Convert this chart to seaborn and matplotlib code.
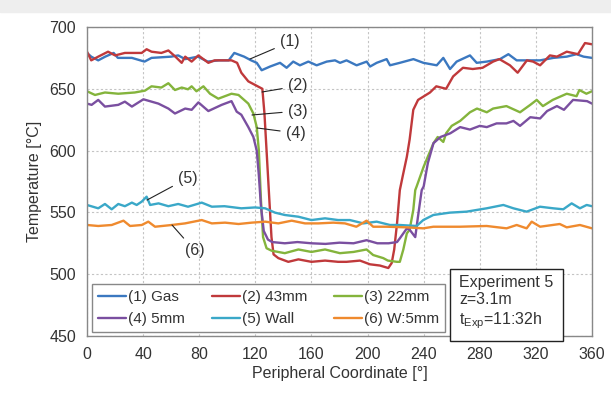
import matplotlib.pyplot as plt
import seaborn as sns
from matplotlib.patches import Rectangle

# peripheral coordinate [deg] and temperature [degC] per measuring position
gas_x = [0, 3, 8, 13, 19, 22, 32, 41, 46, 60, 65, 70, 79, 86, 94, 101, 105, 112, 117, 121,
         124.5, 130.5, 137.6, 142.3, 147, 151.8, 157.8, 163.7, 170.9, 176.8, 180.4, 185, 192.2,
         199.4, 201.8, 206.5, 213.6, 216, 223, 232.7, 239.8, 249.3, 254, 258.8, 263.5, 273,
         277.8, 285, 294.4, 300.4, 306.3, 313.4, 323, 332.5, 342, 349, 354, 360]
gas_y = [679, 676, 673, 676, 679, 675, 675, 672, 675, 676, 677, 674, 676, 672, 673, 673, 679,
         676, 673, 671, 665, 668, 671, 667, 672, 669, 672, 669, 672, 673, 671, 673, 669, 672,
         668, 671, 674, 669, 671, 674, 671, 669, 675, 666, 672, 677, 671, 672, 674, 678, 673,
         673, 673, 675, 676, 678, 676, 675]

red_x = [0, 3, 8, 15, 20, 27, 39, 42.5, 46, 53, 58, 63, 67.5, 70, 74.6, 79.4, 86.5, 91, 103,
         107, 110, 115, 120, 125, 126.5, 128, 130, 131.5, 133, 136.4, 143.5, 150.7, 160, 169.7,
         179, 185, 194.6, 201.7, 208.8, 214.8, 217.2, 219, 221, 223, 225, 228, 230, 232.6, 236,
         244.5, 249, 256, 261, 268, 275, 282, 289.5, 294, 301.5, 307, 313.6, 318, 323, 330,
         335, 342, 350, 355, 360]
red_y = [680, 673, 676, 680, 677, 679, 679, 682, 680, 679, 681, 676, 671, 676, 672, 677, 671,
         673, 673, 671, 663, 656, 653, 650, 630, 600, 560, 530, 516, 513, 510, 512, 510, 511,
         510, 510, 511, 508, 507, 505, 509, 520, 541, 568, 579, 595, 609, 633, 641, 647, 652,
         650, 660, 667, 666, 667, 672, 674, 669, 663, 673, 672, 669, 677, 676, 680, 678, 687,
         686]

grn_x = [0, 5.7, 12.8, 22.3, 34, 41.3, 46, 53, 58, 62.7, 67.5, 72, 74.6, 78, 83, 87.7, 93.6,
         103, 108, 115, 118.6, 121, 122.5, 124, 125.5, 128, 131.6, 141, 150.7, 160, 169.7,
         180.3, 190, 199.3, 204, 211.2, 214.5, 221, 223, 225.5, 228, 230, 232.6, 234, 235, 240,
         247, 250, 254, 256, 260, 266, 273, 278, 285, 289.5, 299, 308.7, 316, 320.6, 325, 332,
         342, 349, 351, 356, 360]
grn_y = [648, 645, 647, 646, 647, 648.5, 652, 651, 654.5, 649, 651, 649.6, 652, 648, 652, 646,
         642, 646, 645, 638, 630, 619, 600, 560, 530, 521, 519, 517, 520, 518, 520, 517, 518,
         520, 515.5, 513, 511, 510, 510, 520, 533, 536, 552, 568, 571, 587, 606, 611, 607, 614,
         620, 624, 631, 634, 631, 634, 636, 631, 637, 641, 636, 641, 646, 644, 649, 646, 648]

pur_x = [0, 3.3, 8, 12.8, 22.3, 27, 32, 40.2, 50.9, 58, 62.7, 70, 74.6, 79.4, 86.5, 96, 103,
         106.7, 110, 115, 118.6, 121, 122.5, 124, 126, 129, 132, 141, 150, 160, 170, 180, 190,
         199.3, 207, 215, 221, 223, 228, 230, 234, 236, 238.6, 240, 243, 247, 252, 259, 266,
         273, 280, 285, 292, 299, 304, 308.7, 316, 323, 328, 335, 340, 346.5, 356.5, 360]
pur_y = [638, 637, 641, 635.6, 637, 639.6, 635.6, 641.5, 638, 634, 630, 634, 633, 639, 632,
         637, 640, 631.5, 629, 619, 611, 600, 580, 555, 535, 528, 526, 525, 526, 525, 524.5,
         525.5, 525, 527.5, 525, 525, 526, 529, 537, 536, 530, 547, 568, 571, 590, 606, 611,
         614, 619, 617, 620, 619, 622, 622, 624, 620, 627, 626, 632, 636, 633, 641, 640, 638]

cyn_x = [0, 8, 12.8, 17.6, 22.3, 27, 32, 35.4, 39, 42.5, 45, 51, 58, 65, 72, 81.8, 89, 98, 110,
         119.8, 127, 134, 141, 150.7, 160, 169.7, 179, 187.4, 197, 206.5, 216, 223, 235, 239.7,
         246.9, 258.7, 270.6, 284.9, 296.8, 304, 313.4, 322.9, 332.4, 339.5, 345.5, 351.4,
         356.2, 360]
cyn_y = [556, 553.3, 556.8, 552.5, 556.8, 555, 557.9, 556, 558.7, 562.7, 556, 557.3, 555,
         556.8, 554.6, 557.9, 554.6, 555, 553.3, 554, 553.3, 549.8, 547.9, 546.5, 543.8, 545.2,
         543.8, 543.8, 541.1, 542.5, 539.8, 539.8, 539, 543.8, 547.9, 549.8, 550.6, 553.3, 556,
         553.3, 550.6, 554.6, 553.3, 552.5, 557.3, 553.3, 556, 555]

org_x = [0, 8, 17.6, 26, 30.7, 39, 43.7, 48.5, 60.4, 69.9, 81.8, 89, 98.4, 108, 117.4, 127,
         136.4, 145.9, 155.4, 164.9, 175.6, 183.9, 192, 199.3, 204, 213.6, 227.8, 239.7, 246.9,
         265.9, 284.9, 299.1, 306.3, 313.4, 317, 323, 337, 342, 351.4, 360]
org_y = [539.8, 539, 539.8, 543.3, 539, 539.8, 542.5, 538.4, 539.8, 541.1, 543.8, 541.1, 541.7,
         540.6, 541.7, 542.5, 541.1, 543.3, 541.1, 541.1, 541.7, 541.1, 538.4, 543.3, 538.4,
         538.4, 537.9, 537.1, 538.4, 538.4, 539, 537.1, 539.8, 537.1, 542.5, 538.4, 540.6,
         537.9, 539.8, 537.1]

labels = ["(1) Gas", "(2) 43mm", "(3) 22mm", "(4) 5mm", "(5) Wall", "(6) W:5mm"]
colors = ["#3b78c0", "#c0393b", "#84b43c", "#7a4fa0", "#3aa8c8", "#ef8a2e"]

# callout labels: text position, point on the curve
callouts = [("(1)", (144.7, 687.9), (116.2, 674.1)),
            ("(2)", (150.4, 652.3), (124.8, 647.4)),
            ("(3)", (150.4, 632.0), (117.6, 628.8)),
            ("(4)", (149.0, 614.2), (121.2, 618.3)),
            ("(5)", (72.0, 577.8), (42.8, 560.0)),
            ("(6)", (77.0, 518.8), (60.6, 539.8))]

sns.set_theme(style="white")
plt.rcParams["font.family"] = ["Liberation Sans", "DejaVu Sans"]

fig = plt.figure(figsize=(6.11, 3.98), dpi=100)
fig.patches.append(Rectangle((0, 1 - 12 / 398), 1, 12 / 398, transform=fig.transFigure,
                             color="#eeeeee", zorder=-1))
ax = fig.add_axes([0.1424, 0.1558, 0.8265, 0.7764])

data = [(gas_x, gas_y), (red_x, red_y), (grn_x, grn_y),
        (pur_x, pur_y), (cyn_x, cyn_y), (org_x, org_y)]
for (xs, ys), lab, c in zip(data, labels, colors):
    sns.lineplot(x=xs, y=ys, color=c, lw=1.7, label=lab, ax=ax, estimator=None)

ax.set_xlim(0, 360)
ax.set_ylim(450, 700)
ax.set_xticks(range(0, 361, 40))
ax.set_yticks(range(450, 701, 50))
ax.grid(True, ls=(0, (2, 2)), color="#c4c4c4", lw=0.8)
for s in ax.spines.values():
    s.set_color("#888888")
    s.set_linewidth(1)
ax.tick_params(direction="in", length=3, labelsize=11.5, colors="#888888",
               labelcolor="#333333", pad=8)
ax.set_xlabel("Peripheral Coordinate [°]", fontsize=11.5, color="#333333", labelpad=3)
ax.set_ylabel("Temperature [°C]", fontsize=11.5, color="#333333", labelpad=5)

for txt, tpos, pt in callouts:
    ax.annotate(txt, xy=pt, xytext=tpos, ha="center", va="center", fontsize=11.5,
                color="#333333",
                arrowprops=dict(arrowstyle="-", color="#222222", lw=0.8,
                                shrinkA=2, shrinkB=0))

h, l = ax.get_legend_handles_labels()
order = [0, 3, 1, 4, 2, 5]
ax.legend([h[i] for i in order], [l[i] for i in order], ncol=3, mode="expand",
          loc="lower left", bbox_to_anchor=(0.0099, 0.013, 0.699, 0.159),
          borderaxespad=0, fontsize=11, handlelength=1.85, handletextpad=0.1,
          labelspacing=0.5, borderpad=0.4, frameon=True, fancybox=False, framealpha=1,
          edgecolor="#888888", labelcolor="#333333")

ax.text(0.737, 0.198, "Experiment 5\nz=3.1m\n$\\mathregular{t_{Exp}}$=11:32h",
        transform=ax.transAxes, ha="left", va="top", fontsize=11.5, color="#333333",
        linespacing=1.22,
        bbox=dict(boxstyle="square,pad=0.6", fc="white", ec="#222222", lw=1))

fig.savefig("out.png", dpi=100)
